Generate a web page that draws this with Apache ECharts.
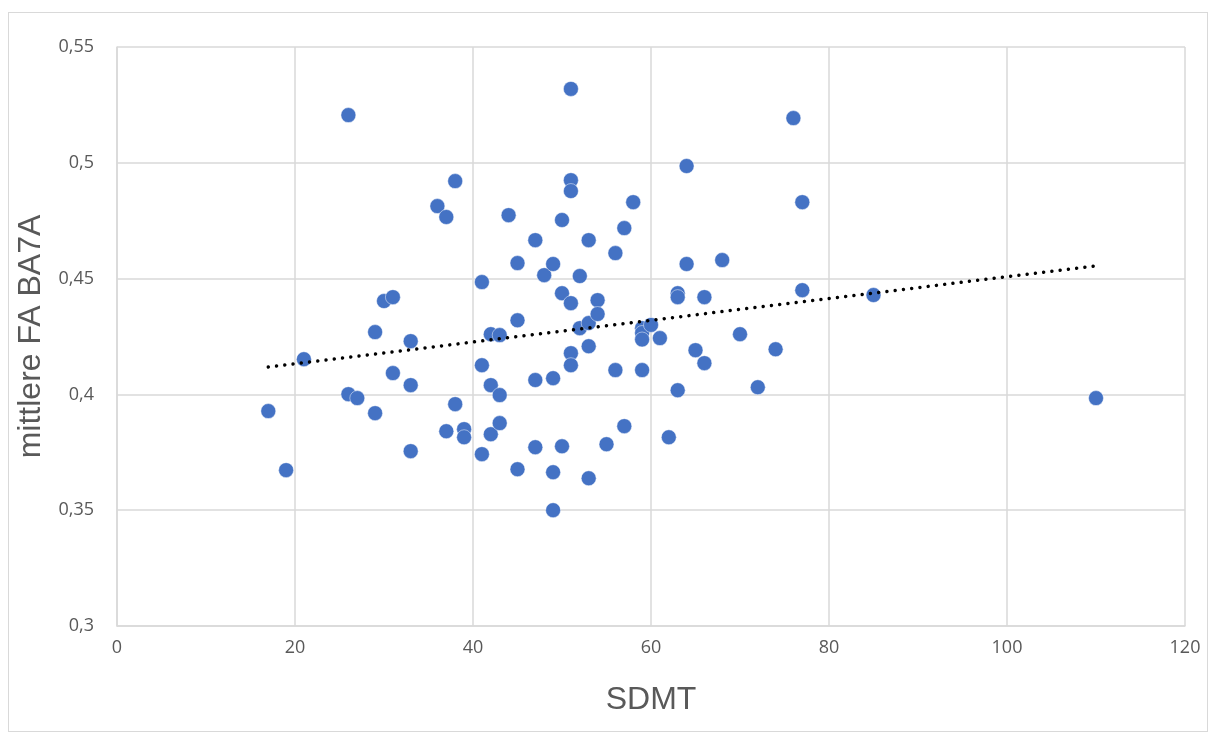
<!DOCTYPE html>
<html>
<head>
<meta charset="utf-8">
<script src="https://cdn.jsdelivr.net/npm/echarts@6/dist/echarts.min.js"></script>
<style>
html,body{margin:0;padding:0;background:#fff;}
#frame{position:absolute;left:8px;top:12px;width:1200px;height:720px;border:1px solid #d9d9d9;box-sizing:border-box;}
#chart{position:absolute;left:0;top:0;width:1214px;height:736px;}
</style>
</head>
<body>
<div id="frame"></div>
<div id="chart"></div>
<script>
// SDMT (x) values
const sdmt = [17,19,21,26,26,27,29,29,30,31,31,33,33,33,36,37,37,38,38,39,39,41,41,41,42,42,42,43,43,43,44,45,45,45,47,47,47,48,49,49,49,49,50,50,50,51,51,51,51,51,51,52,52,53,53,53,53,54,54,55,56,56,57,57,58,59,59,59,59,60,61,62,63,63,63,64,64,65,66,66,68,70,72,74,76,77,77,85,110];
// mittlere FA BA7A (y) values
const fa = [0.3928,0.3673,0.4152,0.5206,0.4001,0.3984,0.4269,0.3919,0.4403,0.4420,0.4092,0.4230,0.4040,0.3755,0.4813,0.4766,0.3841,0.4921,0.3958,0.3850,0.3815,0.4485,0.4126,0.3742,0.4260,0.4040,0.3828,0.4256,0.3997,0.3876,0.4774,0.4567,0.4320,0.3677,0.4666,0.4062,0.3772,0.4515,0.4563,0.4070,0.3664,0.3500,0.4753,0.4437,0.3776,0.5319,0.4925,0.4878,0.4394,0.4178,0.4126,0.4511,0.4286,0.4666,0.4308,0.4208,0.3638,0.4407,0.4347,0.3785,0.4610,0.4105,0.4718,0.3863,0.4830,0.4286,0.4265,0.4237,0.4105,0.4300,0.4243,0.3815,0.4437,0.4420,0.4018,0.4986,0.4563,0.4191,0.4420,0.4135,0.4580,0.4260,0.4031,0.4195,0.5193,0.4830,0.4450,0.4429,0.3984];
// Trendline endpoints
const trendX = [17, 110];
const trendY = [0.4118, 0.4555];

const points = sdmt.map((x, i) => [x, fa[i]]);
const trend = trendX.map((x, i) => [x, trendY[i]]);

const chart = echarts.init(document.getElementById('chart'), null, {renderer: 'canvas'});
chart.setOption({
  animation: false,
  grid: {left: 117, top: 47, right: 29, bottom: 110, containLabel: false, outerBoundsMode: 'none'},
  xAxis: {
    type: 'value', min: 0, max: 120, interval: 20,
    name: 'SDMT', nameLocation: 'middle', nameGap: 58,
    nameTextStyle: {fontFamily: 'Liberation Sans', fontSize: 32, color: '#595959'},
    axisLine: {show: true, lineStyle: {color: '#d9d9d9', width: 1.5}},
    axisTick: {show: false},
    axisLabel: {fontFamily: 'Open Sans', fontSize: 18, color: '#595959', margin: 13},
    splitLine: {show: true, lineStyle: {color: '#d9d9d9', width: 1.5}}
  },
  yAxis: {
    type: 'value', min: 0.3, max: 0.55, interval: 0.05,
    name: 'mittlere FA BA7A', nameLocation: 'middle', nameGap: 65, nameRotate: 90,
    nameTextStyle: {fontFamily: 'Liberation Sans', fontSize: 32, color: '#595959'},
    axisLine: {show: true, lineStyle: {color: '#d9d9d9', width: 1.5}},
    axisTick: {show: false},
    axisLabel: {fontFamily: 'Open Sans', fontSize: 18, color: '#595959', margin: 23,
      formatter: v => parseFloat(v.toFixed(2)).toString().replace('.', ',')},
    splitLine: {show: true, lineStyle: {color: '#d9d9d9', width: 1.5}}
  },
  series: [
    {
      type: 'scatter', data: points, symbolSize: 15,
      itemStyle: {color: '#4472C4', opacity: 1, borderColor: 'rgba(255,255,255,0.6)', borderWidth: 0.8}
    },
    {
      type: 'line', data: trend, symbol: 'none', z: 5,
      lineStyle: {color: '#000', width: 3.5, type: [0.01, 8.3], cap: 'round'}
    }
  ]
});
</script>
</body>
</html>
